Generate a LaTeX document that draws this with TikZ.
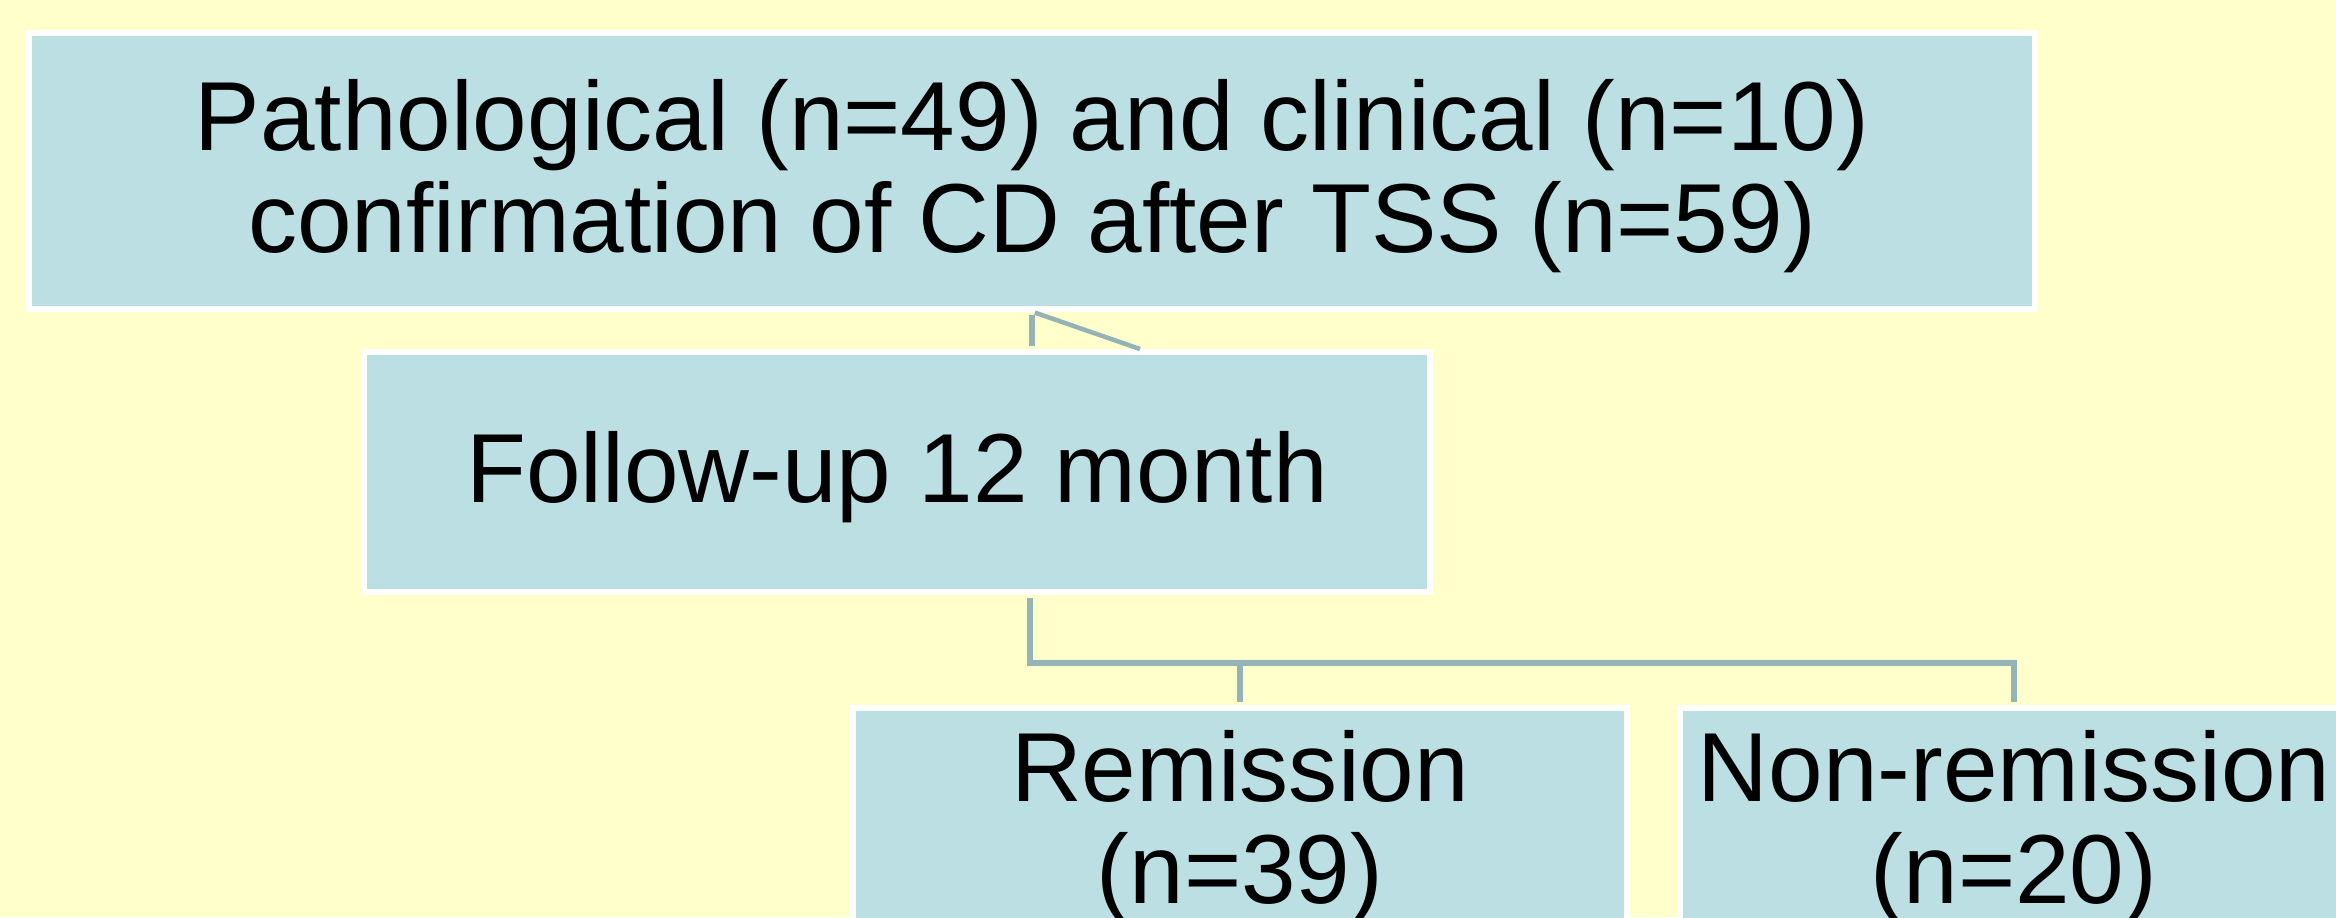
\documentclass[tikz,border=0pt]{standalone}
\usepackage{fontspec}
\setmainfont{Liberation Sans}
\usepackage{xcolor}
\usepackage{tikz}
\usetikzlibrary{calc}

\definecolor{bgyellow}{HTML}{FFFFCC}
\definecolor{boxblue}{HTML}{BBDFE3}
\definecolor{linkgray}{HTML}{93B3B7}
% pushes the text block a little lower in its box
\newcommand{\toppad}{\rule{0pt}{0.82cm}}

\begin{document}
\begin{tikzpicture}[
                x=0.01cm, y=-0.01cm,
                box/.style={rectangle, draw=white, line width=0.06cm, fill=boxblue,
                    align=center, inner sep=0pt,
                    font=\fontsize{27.9pt}{29pt}\selectfont},
                link/.style={draw=linkgray, line width=0.055cm,
                    shorten <=0.03cm, shorten >=0.03cm}
            ]
                % Canvas
                \useasboundingbox (0,0) rectangle (2336,917);
                \fill[bgyellow] (0,0) rectangle (2336,917);
                \clip (0,0) rectangle (2336,917);

                % Nodes
                \node[box, minimum width=20.04cm, minimum height=2.75cm] (confirm) at (1032,171)
                    {\toppad Pathological (n=49) and clinical (n=10)\\confirmation of CD after TSS (n=59)};
                \node[box, minimum width=10.65cm, minimum height=2.39cm] (follow) at (897,472)
                    {\toppad Follow-up 12 month};
                \node[box, minimum width=7.73cm, minimum height=2.28cm] (remission) at (1240,822)
                    {\toppad Remission\\(n=39)};
                \node[box, minimum width=6.68cm, minimum height=2.28cm] (nonrem) at (2014,822)
                    {\toppad Non-remission\\(n=20)};
                \coordinate (kink) at (1140,349);
                \coordinate (bus) at (1030,663);

                % Edges
                \draw[link] (confirm.south) -- (confirm.south |- follow.north);
                \draw[link, line width=0.045cm, shorten >=0pt] (confirm.south) -- (kink);
                \draw[link] (follow.south -| bus) -- (bus) -| (nonrem.north);
                \draw[link, shorten <=0pt] (remission.north |- bus) -- (remission.north);
            \end{tikzpicture}
\end{document}
